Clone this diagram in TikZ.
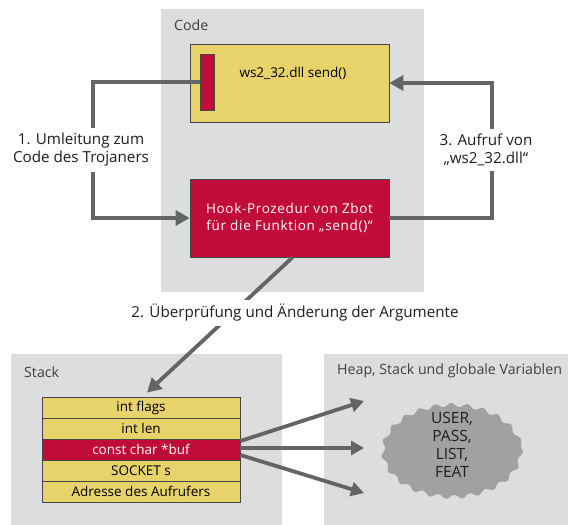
\documentclass[tikz,border=0pt]{standalone}
\usepackage{fontspec}
\setmainfont{Open Sans}
\newfontfamily\myspacedfont[LetterSpace=5]{Open Sans}
\usetikzlibrary{arrows.meta,decorations.pathmorphing,calc}
\definecolor{bggray}{RGB}{220,221,223}
\definecolor{ylw}{RGB}{232,211,106}
\definecolor{rd}{RGB}{193,12,58}
\definecolor{arrgray}{RGB}{99,100,102}
\definecolor{cloudgray}{RGB}{160,161,163}
\definecolor{txtgray}{RGB}{30,30,30}
\definecolor{edgegray}{RGB}{70,70,70}
\newcommand\mylblfont{\fontsize{15.2}{18}\selectfont}
\newcommand\myarealblfont{\fontsize{14.2}{17}\selectfont}
\newcommand\myboxfont{\fontsize{13.5}{18}\selectfont}
\newcommand\myhookfont{\myspacedfont\fontsize{13.5}{17}\selectfont}
\newcommand\mycloudfont{\fontsize{15.5}{18}\selectfont}
\begin{document}
\begin{tikzpicture}[x=1pt,y=-1pt,
  area/.style={fill=bggray, draw=none, inner sep=0pt, outer sep=0pt, anchor=north west},
  arealbl/.style={anchor=west, inner sep=0pt, text=txtgray!85, font=\myarealblfont},
  box/.style={draw=edgegray, line width=0.8pt, inner sep=0pt, minimum width=199pt, minimum height=78pt},
  rowbox/.style={draw=edgegray, line width=0.8pt, fill=ylw, inner sep=0pt, minimum width=198pt, minimum height=21pt, font=\myboxfont},
  conn/.style={draw=arrgray, line width=3.8pt, -{Triangle[length=14pt,width=15pt]}},
  lbl/.style={fill=white, align=center, font=\mylblfont, text=txtgray, inner sep=5pt}
]
\useasboundingbox (0,0) rectangle (568,525);
% areas
\node[area, minimum width=263pt, minimum height=283pt] (codebg) at (161,9) {};
\node[area, minimum width=271pt, minimum height=171pt] (stackbg) at (11,354) {};
\node[area, minimum width=244pt, minimum height=171pt] (heapbg) at (324,354) {};
\node[arealbl] (codelbl) at (174,25) {Code};
\node[arealbl] (stacklbl) at (24,372) {Stack};
\node[arealbl] (heaplbl) at (337,371) {Heap, Stack und globale Variablen};
% code boxes
\node[box, fill=ylw] (send) at (289.5,83) {};
\node[font=\myboxfont, inner sep=0pt] (sendtxt) at (293,73) {ws2\_32.dll send()};
\node[draw=edgegray, line width=0.8pt, fill=rd, inner sep=0pt, minimum width=14pt, minimum height=56pt] (bar) at (207,82) {};
\node[box, fill=rd, text=white, align=center, font=\myhookfont] (hook) at (289.5,218) {Hook-Prozedur von Zbot\\für die Funktion „send()“};
% connector 1
\coordinate (c1) at (93,82);
\draw[conn] (bar.west) -- (bar.west -| c1) |- (hook.west);
\node[lbl] (lab1) at (81,150) {1. Umleitung zum\\Code des Trojaners};
% connector 3
\coordinate (c3) at (492,82);
\draw[conn] (hook.east) -- (hook.east -| c3) |- (send.east);
\node[lbl] (lab3) at (486,150) {3. Aufruf von\\„ws2\_32.dll“};
% stack rows
\node[rowbox] (r1) at (141,407.5) {int flags};
\node[rowbox] (r2) at (141,428.5) {int len};
\node[rowbox, fill=rd, text=white] (r3) at (141,449.5) {const char *buf};
\node[rowbox] (r4) at (141,470.5) {SOCKET s};
\node[rowbox] (r5) at (141,491.5) {Adresse des Aufrufers};
% connector 2
\draw[conn] ([xshift=3pt]hook.south) -- ([xshift=6pt,yshift=4pt]r1.north);
\node[lbl, fill=white, inner sep=4pt] (lab2) at (295,313) {2. Überprüfung und Änderung der Argumente};
% cloud
\fill[cloudgray, decorate, decoration={snake, segment length=16pt, amplitude=2pt}] (452,447) ellipse [x radius=69, y radius=46];
\node[align=center, font=\mycloudfont, text=txtgray, inner sep=0pt] (cloud) at (452,445) {USER,\\PASS,\\LIST,\\FEAT};
% arrows from buf
\coordinate (t1) at (364,401);
\coordinate (t2) at (364,448);
\coordinate (t3) at (364,493);
\draw[conn, -{Triangle[length=13pt,width=14pt]}] ([yshift=8.5pt]r3.east) -- (t1);
\draw[conn, -{Triangle[length=13pt,width=14pt]}] ([yshift=1.5pt]r3.east) -- (t2);
\draw[conn, -{Triangle[length=13pt,width=14pt]}] ([yshift=-5.5pt]r3.east) -- (t3);
\end{tikzpicture}
\end{document}
